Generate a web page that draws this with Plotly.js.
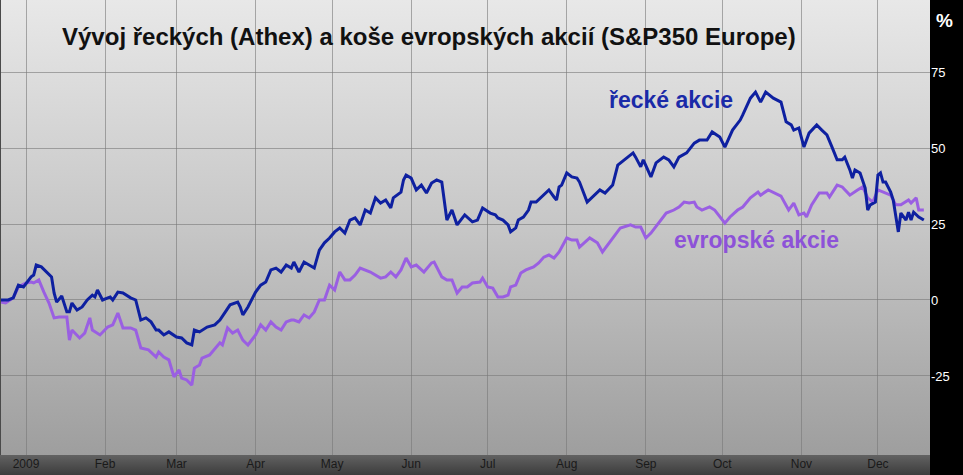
<!DOCTYPE html>
<html>
<head>
<meta charset="utf-8">
<script src="https://cdn.plot.ly/plotly-3.0.1.min.js"></script>
<style>
  html, body { margin: 0; padding: 0; background: #000; }
  #chart {
    width: 963px; height: 475px;
    background:
      linear-gradient(to right, rgba(0,0,0,0) 930px, #000 930px),
      linear-gradient(to bottom, #e8e8e8 0px, #c6c6c6 230px, #9e9e9e 455px, #626262 455px, #3c3c3c 475px);
  }
</style>
</head>
<body>
<div id="chart"></div>
<script>
// Day offsets relative to 1 Jan 2009, and % change
const greekDays = [-10,-7,-5,-3,-1,2,3,4,6,8,10,11,12,14,16,17,18,20,22,24,26,27,28,30,32,33,34,36,38,41,43,45,47,49,51,52,54,56,59,61,63,65,66,68,71,74,76,80,83,84,85,87,90,92,94,96,98,100,102,104,105,107,109,111,113,115,117,119,121,123,125,127,129,131,133,135,137,139,141,143,144,147,148,149,151,153,155,157,159,161,163,165,167,169,172,175,177,179,182,184,185,187,189,190,192,193,195,197,198,200,203,205,207,208,209,210,212,214,216,217,220,225,227,230,232,236,238,239,241,242,245,247,250,252,254,256,259,262,264,267,269,272,274,277,280,281,283,284,286,288,290,293,296,298,300,301,303,305,307,310,312,314,316,318,320,321,323,324,325,327,329,330,331,333,334,335,336,337,339,340,342,343,345,346,347,348,350,352];
const greekPct = [0,0,0.7,4.9,4.3,7.6,8.2,11.5,10.9,9.2,7.6,2.3,-0.7,1.3,-3.9,-3.9,-1.0,-3.3,-2.3,0,1.6,1.0,3.3,0,0.7,1.0,0,2.6,2.3,0.7,0,-6.6,-5.9,-7.2,-9.9,-9.9,-11.5,-10.5,-12.2,-12.5,-14.1,-14.8,-9.9,-10.5,-8.9,-8.2,-6.6,-1.6,-0.7,-2.3,-4.9,-2.3,2.6,4.9,5.9,9.9,10.5,9.2,11.5,10.5,12.5,9.2,12.5,11.5,10.5,16.4,18.8,20.4,22.4,23.7,22.0,26.3,27.0,24.7,29.6,28.6,33.6,31.9,32.9,30.3,33.6,35.5,39.5,41.1,40.1,36.2,37.8,35.2,38.5,39.5,38.8,26.3,29.6,24.7,28.0,25.7,26.3,30.3,28.6,28.0,27.0,26.3,24.7,22.4,23.7,26.3,27.3,29.6,32.2,32.2,34.5,36.2,33.9,32.9,37.2,37.8,41.8,40.5,40.1,38.8,32.2,36.2,35.2,37.8,44.4,47.0,48.4,47.0,43.8,46.1,40.5,45.1,47.0,46.1,43.8,47.0,48.4,51.6,52.6,52.6,55.3,53.6,50.3,55.9,59.2,60.9,64.8,66.4,68.4,65.1,68.4,66.4,65.1,58.6,57.6,55.9,56.6,50.3,54.9,57.6,55.9,54.3,50.3,46.1,46.1,47.0,42.8,40.1,42.8,41.8,36.8,29.6,31.3,32.2,41.1,41.8,38.8,38.8,35.5,32.9,22.4,28.6,26.3,28.9,26.3,28.9,27.3,26.3];

const europeDays = [-10,-8,-5,-3,0,2,3,5,7,9,11,13,16,17,18,21,23,25,26,29,32,34,36,38,41,43,45,48,51,52,54,56,58,60,61,63,65,66,68,69,72,76,77,79,81,83,85,87,90,92,94,96,98,100,102,104,105,107,109,111,113,115,117,119,121,123,125,127,129,131,135,139,141,143,145,147,149,151,153,156,159,160,163,165,167,169,171,173,175,178,179,181,183,185,187,189,190,192,194,196,199,201,203,205,207,209,212,214,216,217,221,224,226,229,233,237,239,241,243,245,249,251,254,256,258,260,262,263,265,268,270,272,274,276,279,281,284,287,288,291,293,296,299,301,303,305,306,308,311,314,315,318,320,323,326,328,330,332,334,336,339,341,343,346,347,349,350,352];
const europePct = [-0.7,-1.0,0.7,4.3,5.6,5.9,5.6,6.6,2.6,-1.0,-5.9,-5.6,-5.6,-13.2,-9.9,-12.5,-10.9,-5.9,-9.9,-11.5,-8.9,-8.2,-4.3,-9.2,-9.2,-9.9,-15.8,-16.4,-18.8,-17.1,-18.8,-19.7,-25.3,-23.0,-25.7,-26.3,-28.0,-22.4,-21.4,-19.1,-18.1,-14.1,-14.8,-9.2,-10.9,-9.9,-13.2,-14.8,-11.5,-8.2,-9.9,-7.2,-8.9,-9.9,-7.2,-6.6,-6.6,-7.2,-4.9,-5.9,-3.9,0,0,4.9,3.3,9.2,6.6,6.6,8.2,10.5,9.2,7.2,7.6,9.2,7.6,9.9,13.8,10.9,11.5,9.2,12.2,12.5,7.6,6.6,6.6,2.3,4.3,4.3,5.6,5.9,7.2,4.3,3.9,1.0,1.0,1.6,4.3,4.9,8.9,9.9,10.9,12.2,14.1,14.8,13.8,15.8,20.4,19.7,19.7,17.4,20.4,18.8,15.8,19.1,23.7,24.7,24.0,24.0,20.4,22.0,26.3,28.6,29.6,30.6,32.2,31.9,32.2,30.6,29.6,30.6,29.6,27.3,25.3,27.3,29.6,30.6,33.6,35.5,34.5,36.2,35.5,34.2,29.6,31.9,28.0,28.6,27.3,31.3,35.2,35.2,33.9,37.8,37.2,34.5,36.2,37.2,33.6,32.2,36.2,35.5,34.5,31.3,31.3,32.9,31.9,33.6,29.6,29.6];

const monthTicks = ['2009-01-01','2009-02-01','2009-03-01','2009-04-01','2009-05-01','2009-06-01','2009-07-01','2009-08-01','2009-09-01','2009-10-01','2009-11-01','2009-12-01'];
const monthLabels = ['2009','Feb','Mar','Apr','May','Jun','Jul','Aug','Sep','Oct','Nov','Dec'];
const yTicks = [-25, 0, 25, 50, 75];
const yLabels = ['-25', '0', '25', '50', '75'];

const titleText = 'Vývoj řeckých (Athex) a koše evropských akcií (S&P350 Europe)';
const greekLabel = 'řecké akcie';
const europeLabel = 'evropské akcie';

const base = Date.UTC(2009, 0, 1);
const toDate = d => new Date(base + d * 86400000).toISOString().slice(0, 10);

const traces = [
  { x: europeDays.map(toDate), y: europePct, type: 'scatter', mode: 'lines',
    line: { color: '#9a5fe2', width: 3 }, hoverinfo: 'skip', showlegend: false },
  { x: greekDays.map(toDate), y: greekPct, type: 'scatter', mode: 'lines',
    line: { color: '#0e20a0', width: 3 }, hoverinfo: 'skip', showlegend: false }
];

const gridColor = 'rgba(120,120,120,0.6)';
const layout = {
  width: 963, height: 475,
  margin: { l: 0, r: 33, t: 0, b: 20, pad: 0 },
  paper_bgcolor: 'rgba(0,0,0,0)',
  plot_bgcolor: 'rgba(0,0,0,0)',
  font: { family: '"Liberation Sans", Arial, sans-serif' },
  title: { text: titleText, x: 0.0667, xanchor: 'left', xref: 'paper',
           y: 0.922, yanchor: 'middle', yref: 'container',
           font: { size: 24, color: '#111', weight: 'bold' } },
  xaxis: {
    type: 'date', range: ['2008-12-21 19:00', '2009-12-21 10:00'],
    tickmode: 'array', tickvals: monthTicks, ticktext: monthLabels,
    showgrid: true, gridcolor: gridColor, gridwidth: 1,
    zeroline: false, showline: false, ticks: '',
    tickfont: { size: 12, color: '#1a1a1a' }
  },
  yaxis: {
    side: 'right', range: [-51, 98.7],
    tickmode: 'array', tickvals: yTicks, ticktext: yLabels,
    showgrid: true, gridcolor: gridColor, gridwidth: 1,
    zeroline: false, showline: false, ticks: '',
    tickfont: { size: 13, color: '#ffffff' }
  },
  shapes: [
    { type: 'line', xref: 'paper', yref: 'paper', x0: 0, x1: 0, y0: 0, y1: 1,
      line: { color: '#4a4a4a', width: 2 } }
  ],
  annotations: [
    { text: '%', xref: 'paper', yref: 'paper', x: 1.0045, y: 0.956, xanchor: 'left', yanchor: 'middle',
      showarrow: false, font: { size: 19, color: '#ffffff', weight: 'bold' } },
    { text: greekLabel, xref: 'paper', yref: 'paper', x: 0.722, y: 0.780,
      xanchor: 'center', yanchor: 'middle', showarrow: false,
      font: { size: 23, color: '#1a2aa8', weight: 'bold' } },
    { text: europeLabel, xref: 'paper', yref: 'paper', x: 0.813, y: 0.4725,
      xanchor: 'center', yanchor: 'middle', showarrow: false,
      font: { size: 23, color: '#8d52d8', weight: 'bold' } }
  ]
};

Plotly.newPlot('chart', traces, layout, { staticPlot: true, displayModeBar: false });
</script>
</body>
</html>
